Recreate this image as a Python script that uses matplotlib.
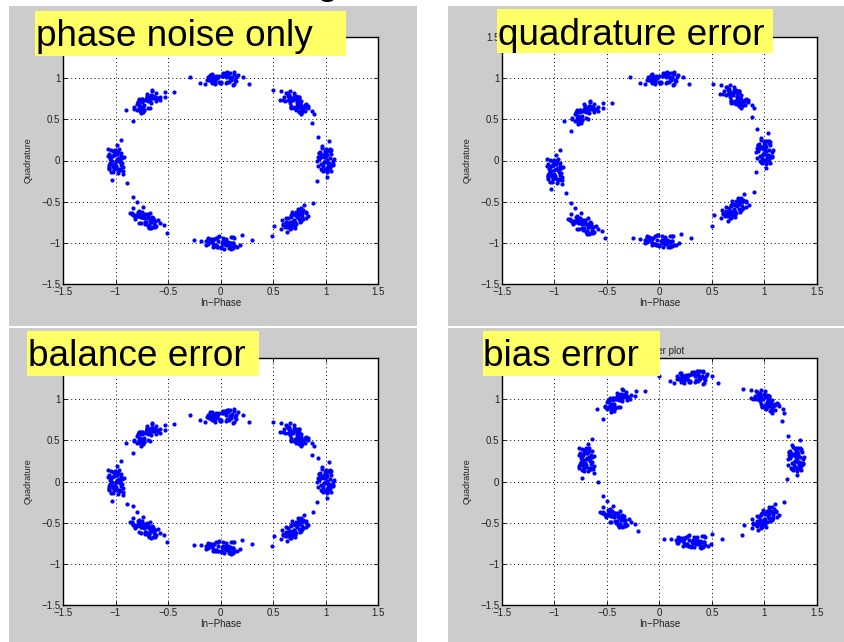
"""Four I/Q scatter plots: phase noise, quadrature, balance and bias errors."""

import numpy as np
import matplotlib

matplotlib.use("Agg")
import matplotlib.pyplot as plt
from matplotlib.patches import Rectangle

W, H = 845, 642

# ideal 8-PSK symbol angles (deg)
symbol_angles = [0, 45, 90, 135, 180, 225, 270, 315]

# cluster centres
phase_only_i = [1.00, 0.71, 0.02, -0.71, -1.00, -0.71, 0.00, 0.71]
phase_only_q = [0.00, 0.71, 1.00, 0.71, 0.00, -0.71, -1.00, -0.71]
quad_err_i = [1.00, 0.72, 0.03, -0.72, -1.00, -0.72, 0.00, 0.72]
quad_err_q = [0.10, 0.78, 1.00, 0.58, -0.12, -0.78, -0.98, -0.58]
balance_i = [1.00, 0.71, 0.02, -0.71, -1.00, -0.71, 0.00, 0.71]
balance_q = [0.00, 0.57, 0.80, 0.57, 0.00, -0.57, -0.80, -0.57]
bias_i = [1.30, 1.01, 0.31, -0.41, -0.70, -0.41, 0.30, 1.01]
bias_q = [0.27, 0.98, 1.27, 0.98, 0.27, -0.44, -0.73, -0.44]

# phase noise samples (rad) and amplitude noise, shared by every cluster
phase_jitter = [0.03, -0.07, 0.12, -0.02, 0.08, -0.10, 0.05, -0.04, 0.14, -0.12,
                0.00, 0.07, -0.08, 0.10, -0.03, 0.04, -0.13, 0.11, -0.05, 0.02,
                0.09, -0.11, 0.06, -0.07, 0.22, -0.02, 0.12, -0.09, 0.03, -0.14,
                0.07, 0.13, -0.04, -0.26, 0.05, 0.00, -0.06, 0.09, 0.30, -0.12,
                0.04, -0.03, 0.10, -0.08, 0.01, 0.18, -0.05, 0.07, -0.10, 0.13,
                0.11, -0.13, 0.08, -0.02, 0.05, 0.09, -0.07, 0.15, -0.19, 0.02]
amp_jitter = [0.04, -0.02, 0.06, 0.00, -0.05, 0.02, -0.07, 0.05, 0.01, -0.03,
              0.07, -0.01, 0.03, -0.06, 0.03, 0.00, -0.02, 0.05, -0.04, 0.08,
              0.01, -0.04, 0.02, -0.07, 0.06, -0.01, 0.00, 0.04, -0.06, 0.02,
              -0.03, 0.05, 0.07, -0.05, 0.01, -0.08, 0.03, 0.00, -0.03, 0.06,
              -0.01, 0.02, -0.06, 0.05, 0.01, -0.02, 0.07, -0.04, 0.00, 0.03,
              -0.05, 0.02, 0.06, -0.01, -0.04, 0.01, 0.05, -0.02, 0.03, -0.06]

panels = [
    ("phase noise only", phase_only_i, phase_only_q),
    ("quadrature error", quad_err_i, quad_err_q),
    ("balance error", balance_i, balance_q),
    ("bias error", bias_i, bias_q),
]

ticks = [-1.5, -1, -0.5, 0, 0.5, 1, 1.5]
tick_labels = ["\u22121.5", "\u22121", "\u22120.5", "0", "0.5", "1", "1.5"]

# layout in pixels: gray panel, axes box, yellow label box, label baseline
panel_px = [(9, 6, 417, 326), (448, 6, 845, 326), (9, 328, 417, 642), (448, 328, 845, 642)]
axes_px = [(63, 37, 378, 284), (502, 37, 817, 284), (63, 358, 378, 605), (502, 358, 817, 605)]
label_px = [(35, 11, 346, 56), (497, 9, 773, 53), (27, 331, 259, 376), (483, 331, 660, 376)]
label_text_px = [(36, 46), (498, 45), (28, 366), (483, 366)]


def fx(x):
    return x / W


def fy(y):
    return 1 - y / H


def cluster_points(ci, qi):
    xs, ys = [], []
    n = len(phase_jitter)
    for k, ang in enumerate(symbol_angles):
        th = np.deg2rad(ang)
        sign = 1 if k % 2 == 0 else -1
        for j in range(n):
            d = sign * phase_jitter[j]
            r = 1 + amp_jitter[(j + 7 * k) % n]
            xs.append(ci[k] + r * np.cos(th + d) - np.cos(th))
            ys.append(qi[k] + r * np.sin(th + d) - np.sin(th))
    return xs, ys


plt.rcParams["font.family"] = ["Liberation Sans", "DejaVu Sans"]
fig = plt.figure(figsize=(W / 100, H / 100), dpi=100, facecolor="white")

for x0, y0, x1, y1 in panel_px:
    fig.patches.append(Rectangle((fx(x0), fy(y1)), fx(x1 - x0), (y1 - y0) / H,
                                 transform=fig.transFigure, facecolor="#cccccc",
                                 edgecolor="none", zorder=-5))

# clipped slide title fragment at the very top
fig.text(fx(316), fy(-6), "g", fontsize=28, color="black", va="baseline")

for (name, ci, qi), (x0, y0, x1, y1) in zip(panels, axes_px):
    ax = fig.add_axes([fx(x0), fy(y1), (x1 - x0) / W, (y1 - y0) / H])
    ax.set_zorder(1)
    ax.set_facecolor("white")
    xs, ys = cluster_points(ci, qi)
    ax.plot(xs, ys, ".", color="#0000ff", markersize=4, zorder=3)
    ax.set_xlim(-1.5, 1.5)
    ax.set_ylim(-1.5, 1.5)
    ax.set_xticks(ticks)
    ax.set_yticks(ticks)
    ax.set_xticklabels(tick_labels)
    ax.set_yticklabels(tick_labels)
    ax.tick_params(direction="in", top=True, right=True, length=3, width=0.6,
                   labelsize=7, pad=2, labelcolor="#222222")
    ax.grid(True, color="black", linestyle=(0, (1, 3)), linewidth=0.7)
    for sp in ax.spines.values():
        sp.set_linewidth(1.0)
    ax.set_xlabel("In\u2212Phase", fontsize=7, labelpad=1, color="#222222")
    ax.set_ylabel("Quadrature", fontsize=6.5, labelpad=6, color="#222222")
    ax.set_title("Scatter plot", fontsize=7, pad=3, color="#222222")

# yellow labels sit on top of everything, in an overlay axes
overlay = fig.add_axes([0, 0, 1, 1])
overlay.set_zorder(5)
overlay.set_xlim(0, W)
overlay.set_ylim(H, 0)
overlay.axis("off")
for (x0, y0, x1, y1), (tx, ty), (name, _, _) in zip(label_px, label_text_px, panels):
    overlay.add_patch(Rectangle((x0, y0), x1 - x0, y1 - y0, facecolor="#ffff66",
                                edgecolor="none"))
    overlay.text(tx, ty, name, fontsize=26.6, color="black", va="baseline")

fig.savefig("out.png", dpi=100, facecolor="white")
